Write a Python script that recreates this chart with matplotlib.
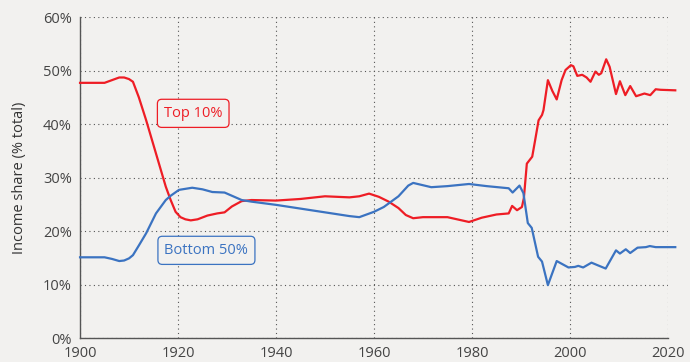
import matplotlib.pyplot as plt
from matplotlib.ticker import FuncFormatter

# Top 10% income share (% of total)
topYears = [1900, 1905, 1906.5, 1908, 1909, 1910, 1910.8, 1912, 1913.5, 1915.5, 1917.5, 1918.5,
            1919.5, 1920.5, 1921.5, 1922.6, 1924, 1926, 1928, 1929.5, 1931, 1933, 1935, 1940,
            1945, 1950, 1955, 1957, 1959, 1961, 1963, 1965, 1966.5, 1968, 1970, 1975, 1979.4,
            1982, 1985, 1987.5, 1988.2, 1989.2, 1990.2, 1990.6, 1991.2, 1992.3, 1992.9, 1993.6,
            1994.3, 1994.6, 1995.5, 1996.4, 1997.3, 1998.3, 1999.1, 2000.2, 2000.7, 2001.5,
            2002.5, 2003.4, 2004.2, 2005.2, 2005.9, 2006.4, 2007.4, 2008.1, 2009.4, 2010.2,
            2011.3, 2012.3, 2013.5, 2015.2, 2016.4, 2017.5, 2018.5, 2021.5]
topShare = [47.7, 47.7, 48.2, 48.7, 48.7, 48.4, 47.9, 45.0, 40.7, 34.5, 28.3, 25.8,
            23.6, 22.6, 22.2, 22.0, 22.2, 22.9, 23.3, 23.5, 24.6, 25.6, 25.8, 25.7,
            26.0, 26.5, 26.3, 26.5, 27.0, 26.4, 25.5, 24.3, 23.0, 22.4, 22.6, 22.6, 21.7,
            22.5, 23.1, 23.3, 24.7, 23.9, 24.5, 26.2, 32.6, 33.9, 37.0, 40.7,
            41.7, 42.6, 48.2, 46.2, 44.6, 48.2, 50.1, 51.0, 50.8, 49.0,
            49.2, 48.7, 47.9, 49.8, 49.2, 49.5, 52.1, 50.7, 45.6, 48.0,
            45.4, 47.1, 45.2, 45.7, 45.4, 46.5, 46.4, 46.3]

# Bottom 50% income share (% of total)
botYears = [1900, 1905, 1906.5, 1908, 1909, 1910, 1910.8, 1912, 1913.5, 1915.5, 1917.5, 1918.5,
            1920.2, 1922.9, 1925, 1927, 1929.5, 1931, 1933, 1935, 1940, 1945, 1950, 1955,
            1957, 1960, 1962, 1965, 1967, 1968, 1971.7, 1975, 1979.4, 1983, 1987.5, 1988.3,
            1989.7, 1990.5, 1991.4, 1992.2, 1993.5, 1994.3, 1995.5, 1997.3, 1999.7, 2001,
            2001.7, 2002.7, 2004.4, 2005.7, 2007.3, 2009.4, 2010.2, 2011.4, 2012.3, 2013.8,
            2015.5, 2016.3, 2017.5, 2021.5]
botShare = [15.1, 15.1, 14.8, 14.4, 14.5, 14.9, 15.5, 17.3, 19.6, 23.3, 25.8, 26.6,
            27.7, 28.1, 27.8, 27.3, 27.2, 26.6, 25.8, 25.5, 24.9, 24.2, 23.5, 22.8,
            22.6, 23.6, 24.5, 26.5, 28.5, 29.0, 28.2, 28.4, 28.8, 28.4, 28.0, 27.2,
            28.5, 27.1, 21.5, 20.6, 15.2, 14.3, 9.9, 14.4, 13.2, 13.3,
            13.5, 13.2, 14.1, 13.6, 13.0, 16.4, 15.8, 16.6, 15.9, 16.9,
            17.0, 17.2, 17.0, 17.0]

xTicks = [1900, 1920, 1940, 1960, 1980, 2000, 2020]
yTicks = [0, 10, 20, 30, 40, 50, 60]

bgColor = "#f2f1ef"
redColor = "#ee1d25"
blueColor = "#3b73c1"
axisColor = "#555555"

plt.rcParams['font.family'] = ['Open Sans', 'DejaVu Sans']

fig = plt.figure(figsize=(6.9, 3.62), dpi=100)
fig.patch.set_facecolor(bgColor)
ax = fig.add_axes([0.116, 0.066, 0.852, 0.887])
ax.set_facecolor(bgColor)

ax.plot(topYears, topShare, color=redColor, lw=1.6, clip_on=False, zorder=3)
ax.plot(botYears, botShare, color=blueColor, lw=1.6, clip_on=False, zorder=3)

ax.set_xlim(1900, 2020)
ax.set_ylim(0, 60)
ax.set_xticks(xTicks)
ax.set_yticks(yTicks)
ax.yaxis.set_major_formatter(FuncFormatter(lambda v, p: "%d%%" % v))
ax.tick_params(length=0, labelsize=10.5, labelcolor="#444444")
ax.tick_params(axis='x', pad=6)
ax.tick_params(axis='y', pad=6)

ax.grid(True, color=axisColor, linestyle=(0, (1, 3)), linewidth=0.8)
ax.set_axisbelow(True)
for s in ["top", "right"]:
    ax.spines[s].set_visible(False)
for s in ["left", "bottom"]:
    ax.spines[s].set_color(axisColor)
    ax.spines[s].set_linewidth(1.0)

ax.set_ylabel("Income share (% total)", fontsize=10.5, color="#333333", labelpad=11)

# series labels in rounded boxes
ax.text(1923.1, 42.0, "Top 10%", color=redColor, fontsize=10.5, ha='center', va='center',
        bbox=dict(boxstyle="round,pad=0.45,rounding_size=0.3", fc=bgColor, ec=redColor, lw=0.9))
ax.text(1925.8, 16.4, "Bottom 50%", color=blueColor, fontsize=10.5, ha='center', va='center',
        bbox=dict(boxstyle="round,pad=0.45,rounding_size=0.3", fc=bgColor, ec=blueColor, lw=0.9))

fig.savefig("out.png", dpi=100, facecolor=bgColor)
